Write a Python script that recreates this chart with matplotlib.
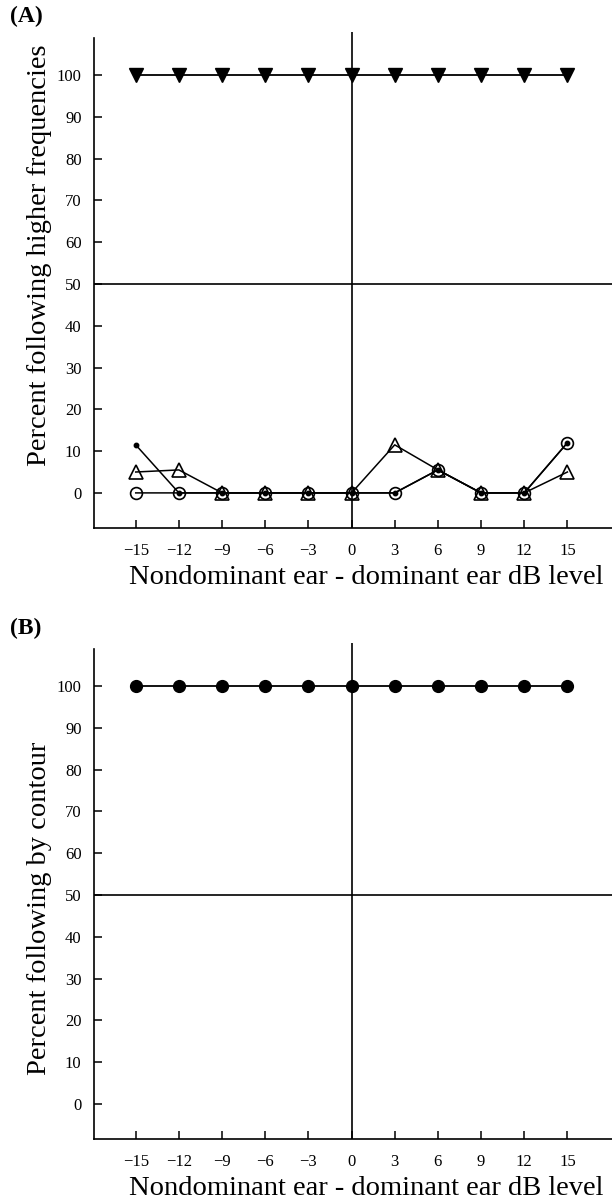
import matplotlib
matplotlib.use("Agg")
import matplotlib.pyplot as plt

plt.rcParams["font.family"] = ["Liberation Serif", "DejaVu Serif"]

# x positions: nondominant - dominant ear dB level
db_levels = [-15, -12, -9, -6, -3, 0, 3, 6, 9, 12, 15]
x_ticklabels = ["\u221215", "\u221212", "\u22129", "\u22126", "\u22123", "0",
                "3", "6", "9", "12", "15"]

# panel A series (percent following higher frequencies)
a_filled_tri = [100, 100, 100, 100, 100, 100, 100, 100, 100, 100, 100]
a_open_tri = [5, 5.5, 0, 0, 0, 0, 11.5, 5.5, 0, 0, 5]
a_open_circ = [0, 0, 0, 0, 0, 0, 0, 5.5, 0, 0, 12]
a_small_dot = [11.5, 0, 0, 0, 0, 0, 0, 5.5, 0, 0, 12]

# panel B series (percent following by contour)
b_filled_circ = [100, 100, 100, 100, 100, 100, 100, 100, 100, 100, 100]

y_ticks = [0, 10, 20, 30, 40, 50, 60, 70, 80, 90, 100]

W, H = 612, 1203
fig = plt.figure(figsize=(W / 100, H / 100), dpi=100, facecolor="white")


def style_axes(ax, ylabel, label_y):
    ax.set_xlim(-17.9, 18.1)
    ax.set_ylim(-8.4, 110.3)
    for s in ("top", "right"):
        ax.spines[s].set_visible(False)
    ax.spines["left"].set_bounds(-8.4, 108.9)
    for s in ("left", "bottom"):
        ax.spines[s].set_linewidth(1.2)
    ax.set_xticks(db_levels)
    ax.set_xticklabels(x_ticklabels)
    ax.set_yticks(y_ticks)
    ax.tick_params(direction="in", length=6, width=1.1, labelsize=12, pad=9)
    ax.tick_params(axis="x", pad=11)
    ax.axvline(0, color="black", lw=1.2, zorder=1)
    ax.axhline(50, color="black", lw=1.2, zorder=1)
    ax.set_xlabel("Nondominant ear - dominant ear dB level", fontsize=20.5, labelpad=4)
    ax.xaxis.label.set_x(0.525)
    fig.text(40 / W, 1 - label_y / H, ylabel, rotation=90, fontsize=20.5,
             ha="center", va="center")


# Panel A
axA = fig.add_axes([94 / W, 1 - 528 / H, 518 / W, 496 / H])
style_axes(axA, "Percent following higher frequencies", 255)
axA.plot(db_levels, a_small_dot, color="black", lw=1.1, marker="o", ms=3.2,
         mfc="black", mec="black", zorder=3)
axA.plot(db_levels, a_open_circ, color="black", lw=1.1, marker="o", ms=8.5,
         mfc="none", mec="black", mew=1.2, zorder=3)
axA.plot(db_levels, a_open_tri, color="black", lw=1.1, marker="^", ms=9.5,
         mfc="none", mec="black", mew=1.2, zorder=3)
axA.plot(db_levels, a_filled_tri, color="black", lw=1.3, marker="v", ms=10,
         mfc="black", mec="black", zorder=3)
fig.text(10 / W, 1 - 16 / H, "(A)", fontsize=17, fontweight="bold",
         ha="left", va="center")

# Panel B
axB = fig.add_axes([94 / W, 1 - 1139 / H, 518 / W, 496 / H])
style_axes(axB, "Percent following by contour", 908)
axB.plot(db_levels, b_filled_circ, color="black", lw=1.3, marker="o", ms=8.5,
         mfc="black", mec="black", zorder=3)
fig.text(10 / W, 1 - 628 / H, "(B)", fontsize=17, fontweight="bold",
         ha="left", va="center")

fig.savefig("out.png", dpi=100, facecolor="white")
